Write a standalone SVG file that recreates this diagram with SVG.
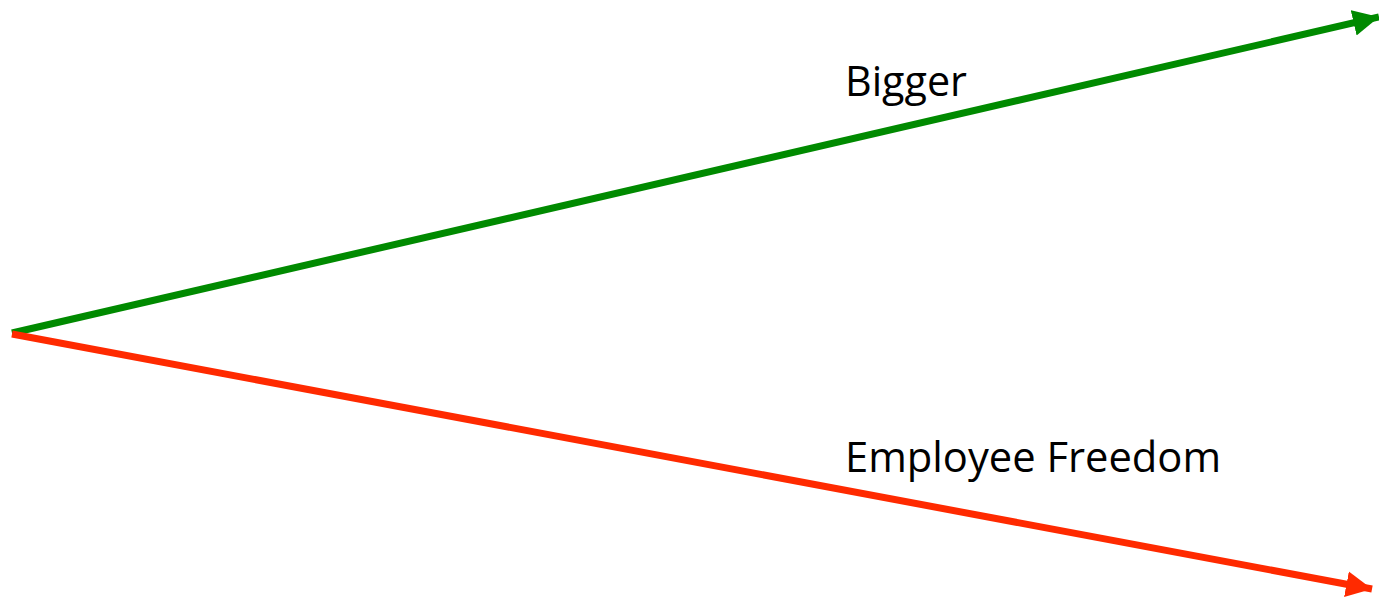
<svg xmlns="http://www.w3.org/2000/svg" width="1379" height="598" viewBox="0 0 1379 598">
<style>
.lbl{font-family:"Open Sans","Liberation Sans",sans-serif;font-size:42px;fill:#000}
.ln{fill:none;stroke-width:7}
</style>
<defs>
<marker id="ag" markerUnits="userSpaceOnUse" markerWidth="28" markerHeight="28" viewBox="0 0 28 28" refX="26" refY="14" orient="auto"><path d="M0,1 L26,14 L0,27 Z" fill="#008A00"/></marker>
<marker id="ar" markerUnits="userSpaceOnUse" markerWidth="28" markerHeight="28" viewBox="0 0 28 28" refX="26" refY="14" orient="auto"><path d="M0,1 L26,14 L0,27 Z" fill="#FF2A00"/></marker>
</defs>
<rect width="1379" height="598" fill="#fff"/>
<g id="connectors">
<line class="ln" x1="12" y1="333" x2="1379" y2="17" stroke="#008A00" marker-end="url(#ag)"/>
<line class="ln" x1="12" y1="334" x2="1372" y2="589" stroke="#FF2A00" marker-end="url(#ar)"/>
</g>
<g id="label-bigger"><text class="lbl" x="845" y="96" textLength="122" lengthAdjust="spacingAndGlyphs">Bigger</text></g>
<g id="label-freedom"><text class="lbl" x="845" y="472" textLength="376" lengthAdjust="spacingAndGlyphs">Employee Freedom</text></g>
</svg>
